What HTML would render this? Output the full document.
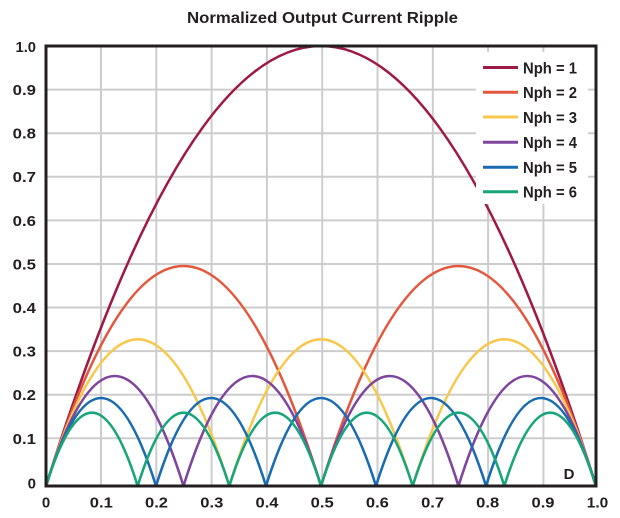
<!DOCTYPE html>
<html>
<head>
<meta charset="utf-8">
<style>
  html,body{margin:0;padding:0;background:#fff;}
  body{width:620px;height:518px;overflow:hidden;}
  svg{display:block;}
  text{font-family:"Liberation Sans",Arial,sans-serif;font-weight:bold;fill:#231f20;}
</style>
</head>
<body>
<svg width="620" height="518" viewBox="0 0 620 518" xmlns="http://www.w3.org/2000/svg">
  <rect x="0" y="0" width="620" height="518" fill="#fff"/>
  <!-- title -->
  <text x="322.5" y="23" font-size="15.5" text-anchor="middle" textLength="271" lengthAdjust="spacingAndGlyphs">Normalized Output Current Ripple</text>

  <!-- grid -->
  <g stroke="#cdcdcd" stroke-width="2" fill="none">
    <line x1="101" y1="46" x2="101" y2="486"/>
    <line x1="156.3" y1="46" x2="156.3" y2="486"/>
    <line x1="211.6" y1="46" x2="211.6" y2="486"/>
    <line x1="266.9" y1="46" x2="266.9" y2="486"/>
    <line x1="322.2" y1="46" x2="322.2" y2="486"/>
    <line x1="377.5" y1="46" x2="377.5" y2="486"/>
    <line x1="432.8" y1="46" x2="432.8" y2="486"/>
    <line x1="488.1" y1="46" x2="488.1" y2="486"/>
    <line x1="543.4" y1="46" x2="543.4" y2="486"/>
    <line x1="46" y1="89.6" x2="596" y2="89.6"/>
    <line x1="46" y1="133.2" x2="596" y2="133.2"/>
    <line x1="46" y1="176.8" x2="596" y2="176.8"/>
    <line x1="46" y1="220.4" x2="596" y2="220.4"/>
    <line x1="46" y1="264" x2="596" y2="264"/>
    <line x1="46" y1="307.5" x2="596" y2="307.5"/>
    <line x1="46" y1="351.1" x2="596" y2="351.1"/>
    <line x1="46" y1="394.7" x2="596" y2="394.7"/>
    <line x1="46" y1="438.3" x2="596" y2="438.3"/>
  </g>

  <!-- curves -->
  <g fill="none" stroke-width="2.6" stroke-linejoin="round">
    <path stroke="#9e1a45" d="M46,486 Q321,-394 596,486"/>
    <path stroke="#e4573d" d="M46,486 Q183.5,46 321,486 Q458.5,46 596,486"/>
    <path stroke="#f8c84e" d="M46,486 Q137.67,192.67 229.33,486 Q321,192.67 412.67,486 Q504.33,192.67 596,486"/>
    <path stroke="#7e469e" d="M46,486 Q114.75,266 183.5,486 Q252.25,266 321,486 Q389.75,266 458.5,486 Q527.25,266 596,486"/>
    <path stroke="#1a6cb2" d="M46,486 Q101,310 156,486 Q211,310 266,486 Q321,310 376,486 Q431,310 486,486 Q541,310 596,486"/>
    <path stroke="#19a57a" d="M46,486 Q91.83,339.33 137.67,486 Q183.5,339.33 229.33,486 Q275.17,339.33 321,486 Q366.83,339.33 412.67,486 Q458.5,339.33 504.33,486 Q550.17,339.33 596,486"/>
  </g>

  <!-- legend -->
  <rect x="476" y="52" width="112" height="152" fill="#fff"/>
  <g stroke-width="3" fill="none">
    <line x1="483" y1="67.5" x2="518" y2="67.5" stroke="#9e1a45"/>
    <line x1="483" y1="92.3" x2="518" y2="92.3" stroke="#e4573d"/>
    <line x1="483" y1="117" x2="518" y2="117" stroke="#f8c84e"/>
    <line x1="483" y1="142.3" x2="518" y2="142.3" stroke="#7e469e"/>
    <line x1="483" y1="167.3" x2="518" y2="167.3" stroke="#1a6cb2"/>
    <line x1="483" y1="191.8" x2="518" y2="191.8" stroke="#19a57a"/>
  </g>
  <g font-size="15.5">
    <text x="523" y="73.3" textLength="54" lengthAdjust="spacingAndGlyphs">Nph = 1</text>
    <text x="523" y="98.1" textLength="54" lengthAdjust="spacingAndGlyphs">Nph = 2</text>
    <text x="523" y="122.8" textLength="54" lengthAdjust="spacingAndGlyphs">Nph = 3</text>
    <text x="523" y="148.1" textLength="54" lengthAdjust="spacingAndGlyphs">Nph = 4</text>
    <text x="523" y="173.1" textLength="54" lengthAdjust="spacingAndGlyphs">Nph = 5</text>
    <text x="523" y="197.6" textLength="54" lengthAdjust="spacingAndGlyphs">Nph = 6</text>
  </g>

  <!-- frame -->
  <rect x="46" y="46" width="550" height="440" fill="none" stroke="#231f20" stroke-width="3"/>

  <!-- y labels -->
  <g font-size="15" text-anchor="end">
    <text x="36" y="52" textLength="20.5" lengthAdjust="spacingAndGlyphs">1.0</text>
    <text x="36" y="95" textLength="23.3" lengthAdjust="spacingAndGlyphs">0.9</text>
    <text x="36" y="138.6" textLength="23.3" lengthAdjust="spacingAndGlyphs">0.8</text>
    <text x="36" y="182.2" textLength="23.3" lengthAdjust="spacingAndGlyphs">0.7</text>
    <text x="36" y="225.8" textLength="23.3" lengthAdjust="spacingAndGlyphs">0.6</text>
    <text x="36" y="269.4" textLength="23.3" lengthAdjust="spacingAndGlyphs">0.5</text>
    <text x="36" y="312.9" textLength="23.3" lengthAdjust="spacingAndGlyphs">0.4</text>
    <text x="36" y="356.5" textLength="23.3" lengthAdjust="spacingAndGlyphs">0.3</text>
    <text x="36" y="400.2" textLength="23.3" lengthAdjust="spacingAndGlyphs">0.2</text>
    <text x="36" y="444" textLength="23.3" lengthAdjust="spacingAndGlyphs">0.1</text>
    <text x="36" y="488.5">0</text>
  </g>

  <!-- x labels -->
  <g font-size="15" text-anchor="middle">
    <text x="46" y="507.5">0</text>
    <text x="101.3" y="507.5" textLength="23" lengthAdjust="spacingAndGlyphs">0.1</text>
    <text x="156.5" y="507.5" textLength="23" lengthAdjust="spacingAndGlyphs">0.2</text>
    <text x="211.8" y="507.5" textLength="23" lengthAdjust="spacingAndGlyphs">0.3</text>
    <text x="267" y="507.5" textLength="23" lengthAdjust="spacingAndGlyphs">0.4</text>
    <text x="322.2" y="507.5" textLength="23" lengthAdjust="spacingAndGlyphs">0.5</text>
    <text x="377.4" y="507.5" textLength="23" lengthAdjust="spacingAndGlyphs">0.6</text>
    <text x="432.6" y="507.5" textLength="23" lengthAdjust="spacingAndGlyphs">0.7</text>
    <text x="487.7" y="507.5" textLength="23" lengthAdjust="spacingAndGlyphs">0.8</text>
    <text x="543" y="507.5" textLength="23" lengthAdjust="spacingAndGlyphs">0.9</text>
    <text x="597.5" y="507.5" textLength="21.5" lengthAdjust="spacingAndGlyphs">1.0</text>
  </g>

  <text x="569" y="479" font-size="15" text-anchor="middle">D</text>
</svg>
</body>
</html>
